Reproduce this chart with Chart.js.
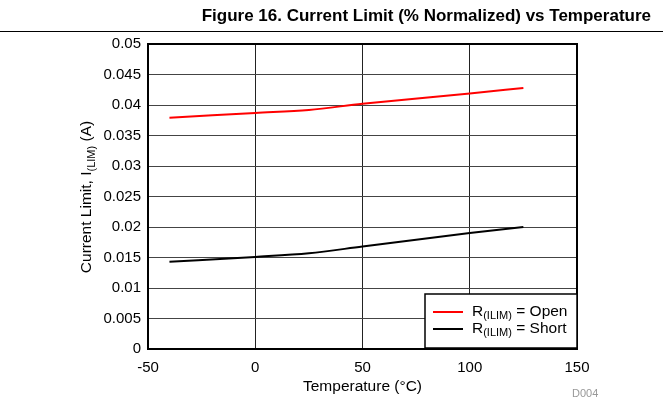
<!DOCTYPE html>
<html>
<head>
<meta charset="utf-8">
<script src="https://cdn.jsdelivr.net/npm/chart.js@4"></script>
<style>
  html, body { margin: 0; padding: 0; background: #fff; }
  #chart { display: block; }
</style>
</head>
<body>
<canvas id="chart" width="663" height="418"></canvas>
<script>
// ---- data ----
const temps = [-40, 0, 25, 50, 100, 125];
const openValues = [0.0379, 0.0387, 0.0392, 0.0402, 0.0419, 0.0428];
const shortValues = [0.0143, 0.0151, 0.0157, 0.0168, 0.0190, 0.0200];
const xTicks = [-50, 0, 50, 100, 150];
const yTicks = [0, 0.005, 0.01, 0.015, 0.02, 0.025, 0.03, 0.035, 0.04, 0.045, 0.05];

const FONT = 'Liberation Sans, Arial, sans-serif';

// draws "main" + subscript + "rest", returns total width
function drawSubText(ctx, x, y, main, sub, rest, size) {
  ctx.font = size + 'px ' + FONT;
  ctx.fillText(main, x, y);
  let w = ctx.measureText(main).width;
  ctx.font = Math.round(size * 0.7) + 'px ' + FONT;
  ctx.fillText(sub, x + w, y + size * 0.28);
  w += ctx.measureText(sub).width;
  ctx.font = size + 'px ' + FONT;
  ctx.fillText(rest, x + w, y);
  w += ctx.measureText(rest).width;
  return w;
}

function subTextWidth(ctx, main, sub, rest, size) {
  ctx.font = size + 'px ' + FONT;
  let w = ctx.measureText(main).width + ctx.measureText(rest).width;
  ctx.font = Math.round(size * 0.7) + 'px ' + FONT;
  return w + ctx.measureText(sub).width;
}

const decorPlugin = {
  id: 'decor',
  afterDraw(chart) {
    const ctx = chart.ctx;
    const a = chart.chartArea;
    ctx.save();

    // title + rule
    ctx.fillStyle = '#000';
    ctx.font = 'bold 17px ' + FONT;
    ctx.textAlign = 'right';
    ctx.textBaseline = 'alphabetic';
    ctx.fillText('Figure 16. Current Limit (% Normalized) vs Temperature', 651, 21);
    ctx.fillRect(0, 31, 663, 1);

    // plot frame
    ctx.strokeStyle = '#000';
    ctx.lineWidth = 2;
    ctx.strokeRect(a.left, a.top, a.right - a.left, a.bottom - a.top);

    // x title
    ctx.textAlign = 'center';
    ctx.font = '15.5px ' + FONT;
    ctx.fillText('Temperature (\u00B0C)', (a.left + a.right) / 2, 391);

    // D004
    ctx.fillStyle = '#999';
    ctx.font = '11px ' + FONT;
    ctx.textAlign = 'left';
    ctx.fillText('D004', 572, 397);

    // y title (rotated, with subscript)
    ctx.fillStyle = '#000';
    ctx.translate(91, 197);
    ctx.rotate(-Math.PI / 2);
    ctx.textAlign = 'left';
    const tw = subTextWidth(ctx, 'Current Limit, I', '(LIM)', ' (A)', 15.5);
    drawSubText(ctx, -tw / 2, 0, 'Current Limit, I', '(LIM)', ' (A)', 15.5);
    ctx.setTransform(1, 0, 0, 1, 0, 0);

    // legend box
    const lx = 425, ly = 294, lw = 152, lh = 54;
    ctx.fillStyle = '#fff';
    ctx.fillRect(lx, ly, lw, lh);
    ctx.strokeStyle = '#000';
    ctx.lineWidth = 1.5;
    ctx.strokeRect(lx, ly, lw, lh);
    const items = [
      { color: '#ff0000', label: ' = Open', y: 312 },
      { color: '#000000', label: ' = Short', y: 329 }
    ];
    items.forEach(it => {
      ctx.strokeStyle = it.color;
      ctx.lineWidth = 2;
      ctx.beginPath();
      ctx.moveTo(433, it.y);
      ctx.lineTo(463, it.y);
      ctx.stroke();
      ctx.fillStyle = '#000';
      ctx.textBaseline = 'middle';
      drawSubText(ctx, 472, it.y, 'R', '(ILIM)', it.label, 15.5);
    });
    ctx.restore();
  }
};

new Chart(document.getElementById('chart'), {
  type: 'line',
  data: {
    datasets: [
      {
        label: 'Open',
        data: temps.map((t, i) => ({ x: t, y: openValues[i] })),
        borderColor: '#ff0000',
        borderWidth: 2,
        pointRadius: 0,
        cubicInterpolationMode: 'monotone'
      },
      {
        label: 'Short',
        data: temps.map((t, i) => ({ x: t, y: shortValues[i] })),
        borderColor: '#000000',
        borderWidth: 2,
        pointRadius: 0,
        cubicInterpolationMode: 'monotone'
      }
    ]
  },
  options: {
    responsive: false,
    animation: false,
    layout: { padding: { left: 0, top: 44, right: 86, bottom: 0 } },
    plugins: { legend: { display: false }, tooltip: { enabled: false } },
    scales: {
      x: {
        type: 'linear',
        min: -50, max: 150,
        afterBuildTicks: s => { s.ticks = xTicks.map(v => ({ value: v })); },
        afterFit: s => { s.height = 69; },
        grid: { color: '#222', lineWidth: 1, drawTicks: false },
        border: { color: '#000', width: 2 },
        ticks: { color: '#000', font: { family: FONT, size: 15 }, padding: 10 }
      },
      y: {
        min: 0, max: 0.05,
        afterBuildTicks: s => { s.ticks = yTicks.map(v => ({ value: v })); },
        afterFit: s => { s.width = 148; },
        grid: { color: '#444', lineWidth: 1, drawTicks: false },
        border: { color: '#000', width: 2 },
        ticks: {
          color: '#000', font: { family: FONT, size: 15 }, padding: 7,
          callback: v => String(parseFloat(v.toFixed(3)))
        }
      }
    }
  },
  plugins: [decorPlugin]
});
</script>
</body>
</html>
